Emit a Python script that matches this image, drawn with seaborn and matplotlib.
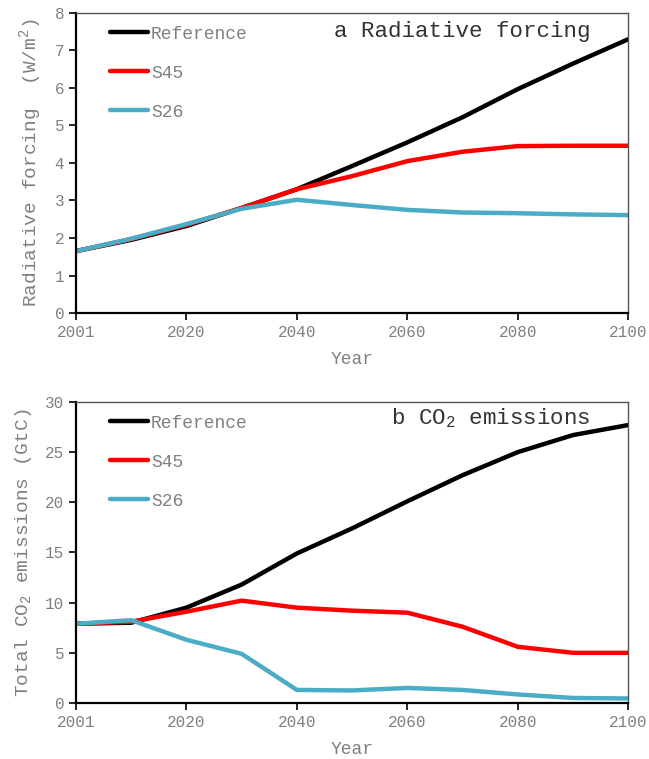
import numpy as np
import pandas as pd
import seaborn as sns
import matplotlib
matplotlib.use("Agg")
import matplotlib.pyplot as plt

sns.set_style("white")
plt.rcParams['font.family'] = ['Liberation Mono', 'DejaVu Sans Mono']
plt.rcParams['mathtext.fontset'] = 'custom'
plt.rcParams['mathtext.rm'] = 'Liberation Mono'

# years along the x axis (equally spaced points)
years = ['2001', '2010', '2020', '2030', '2040', '2050', '2060', '2070', '2080', '2090', '2100']
scenarios = ['Reference', 'S45', 'S26']

# a Radiative forcing (W/m2)
rf_ref = [1.65, 1.95, 2.32, 2.80, 3.30, 3.92, 4.55, 5.22, 5.97, 6.65, 7.30]
rf_s45 = [1.65, 1.97, 2.35, 2.80, 3.30, 3.65, 4.05, 4.30, 4.45, 4.46, 4.46]
rf_s26 = [1.65, 1.98, 2.37, 2.78, 3.02, 2.88, 2.75, 2.68, 2.66, 2.63, 2.61]

# b CO2 emissions (GtC)
co2_ref = [7.9, 8.0, 9.5, 11.8, 14.9, 17.4, 20.1, 22.7, 25.0, 26.7, 27.7]
co2_s45 = [7.9, 8.1, 9.1, 10.2, 9.5, 9.2, 9.0, 7.6, 5.6, 5.0, 5.0]
co2_s26 = [7.9, 8.25, 6.3, 4.9, 1.3, 1.25, 1.5, 1.3, 0.85, 0.5, 0.45]

colors = {'Reference': '#000000', 'S45': '#FF0000', 'S26': '#4BACC6'}
gray = '#808080'


def make_df(ref, s45, s26):
    rows = []
    for name, vals in zip(scenarios, [ref, s45, s26]):
        for y, v in zip(years, vals):
            rows.append({'Year': y, 'value': v, 'scenario': name})
    return pd.DataFrame(rows)


df_rf = make_df(rf_ref, rf_s45, rf_s26)
df_co2 = make_df(co2_ref, co2_s45, co2_s26)

fig = plt.figure(figsize=(6.49, 7.59), dpi=100)
ax1 = fig.add_axes([0.117, 0.5876, 0.851, 0.3953])
ax2 = fig.add_axes([0.117, 0.0738, 0.851, 0.3966])


def draw(ax, df, ymax, ystep, ylabel, ypad, title, ty):
    sns.lineplot(data=df, x='Year', y='value', hue='scenario', hue_order=scenarios,
                 palette=colors, linewidth=3.2, ax=ax, sort=False)
    ax.set_xlim(0, len(years) - 1)
    ax.set_ylim(0, ymax)
    ax.set_xticks(range(0, len(years), 2))
    ax.set_yticks(np.arange(0, ymax + 0.1, ystep))
    ax.tick_params(axis='both', direction='out', length=5, width=1.2, colors='black',
                   labelcolor=gray, labelsize=11.5, left=True, bottom=True)
    ax.set_xlabel('Year', color=gray, fontsize=13, labelpad=8)
    ax.set_ylabel(ylabel, color=gray, fontsize=14, labelpad=ypad)
    for s in ['left', 'bottom']:
        ax.spines[s].set_color('black')
        ax.spines[s].set_linewidth(1.6)
    for s in ['top', 'right']:
        ax.spines[s].set_color('#555555')
        ax.spines[s].set_linewidth(1.0)
    handles, labels = ax.get_legend_handles_labels()
    ax.legend(handles, labels, loc='upper left', bbox_to_anchor=(0.033, 1.012), frameon=False,
              fontsize=13, labelcolor=gray, handlelength=2.1, handletextpad=0.15,
              labelspacing=1.22)
    ax.text(0.932, ty, title, transform=ax.transAxes, ha='right', va='center',
            fontsize=16.2, color='#333333')


draw(ax1, df_rf, 8, 1, r'Radiative forcing  (W/m$^\mathregular{2}$)', 7,
     'a Radiative forcing', 0.937)
draw(ax2, df_co2, 30, 5, r'Total CO$_\mathregular{2}$ emissions (GtC)', 8,
     r'b CO$_\mathregular{2}$ emissions', 0.947)

fig.savefig('out.png', dpi=100)
